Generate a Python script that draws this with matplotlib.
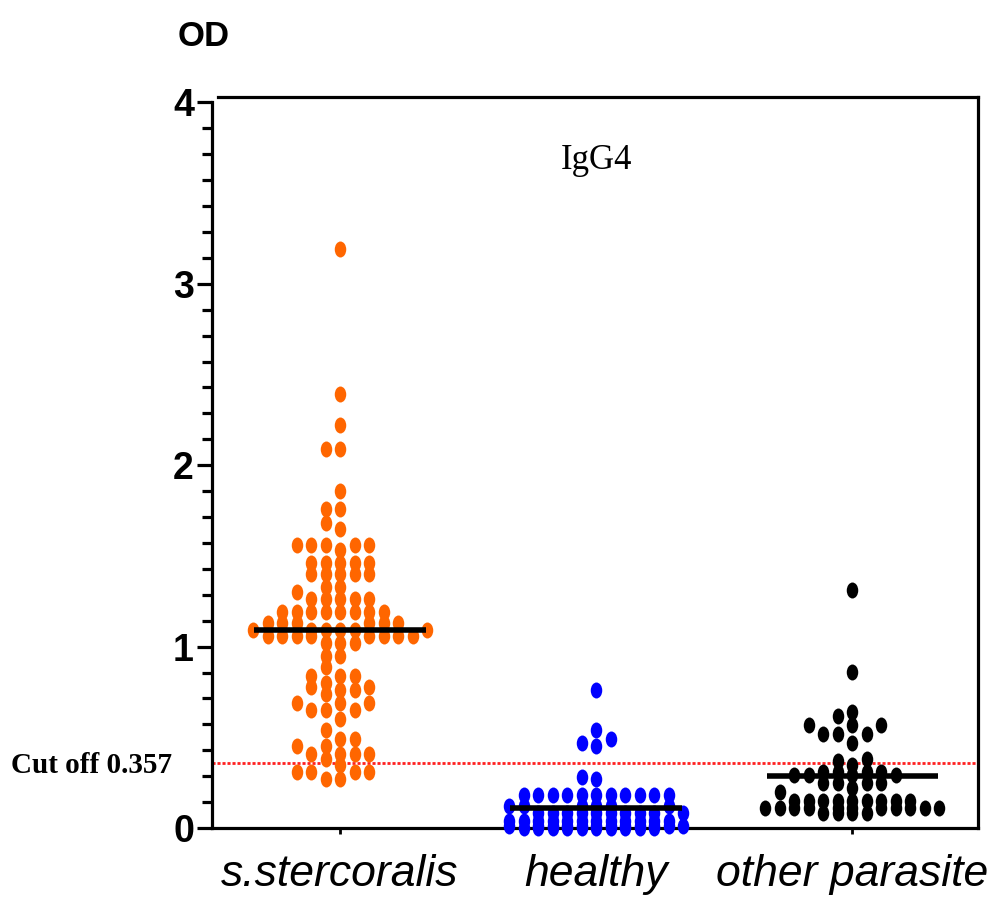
import numpy as np
import matplotlib
matplotlib.use("Agg")
import matplotlib.pyplot as plt
from matplotlib.path import Path
from matplotlib.ticker import MultipleLocator

# group names and OD values
groups = ["s.stercoralis", "healthy", "other parasite"]
colors = ["#ff6600", "#0000ff", "#000000"]

stercoralis = ([3.19, 2.39, 2.22, 2.09, 2.09, 1.86, 1.76, 1.76, 1.68, 1.65]
               + [1.56] * 5 + [1.53] + [1.46] * 5 + [1.40] * 5 + [1.33] * 2 + [1.30]
               + [1.26] * 5 + [1.19] * 8 + [1.13] * 6 + [1.09] * 6 + [1.06] * 8
               + [1.02] * 3 + [0.95] * 2 + [0.89] + [0.84] * 3 + [0.80] + [0.78] * 2
               + [0.76] * 2 + [0.74] + [0.69] * 3 + [0.65] * 3 + [0.60] + [0.54]
               + [0.49] * 2 + [0.45] * 2 + [0.41] * 4 + [0.38] + [0.35] + [0.31] * 4
               + [0.27] * 2)

healthy = ([0.76, 0.54, 0.49, 0.47, 0.45, 0.28, 0.27] + [0.18] * 11 + [0.12] * 6
           + [0.08] * 10 + [0.04] * 12 + [0.01] * 12 + [0.00] * 10)

other = ([1.31, 0.86, 0.64, 0.62] + [0.57] * 3 + [0.52] * 3 + [0.47, 0.38, 0.37, 0.35]
         + [0.31] * 4 + [0.29] * 4 + [0.25] * 4 + [0.22, 0.20] + [0.15] * 9
         + [0.11] * 11 + [0.08] * 4)

cutoff = 0.357
yticks = [0, 1, 2, 3, 4]


def swarm_offsets(vals, dx, h, kmax=6):
    # GraphPad style: points sit in columns, nearest free column to the centre
    cols = {}
    offs = np.zeros(len(vals))
    order = [0]
    for k in range(1, kmax + 1):
        order += [-k, k]
    for i in np.argsort(vals, kind="stable"):
        v = vals[i]
        best, best_d = None, -1
        for k in order:
            d = min([abs(v - y) for y in cols.get(k, [])], default=99)
            if d >= h:
                best = k
                break
            if d > best_d:
                best, best_d = k, d
        cols.setdefault(best, []).append(v)
        offs[i] = best * dx
    return offs


fig = plt.figure(figsize=(10.03, 8.97), dpi=100)
ax = fig.add_axes([212 / 1003, 1 - 828 / 897, 766 / 1003, 731 / 897])
ax.set_xlim(-0.5, 2.49)
ax.set_ylim(0, 4.03)

circ = Path.unit_circle()
ell = Path(circ.vertices * [0.72, 1.0], circ.codes)

dx = 14.5 / 256.2
h = 10.0 / 181.0
for i, (vals, c) in enumerate(zip([stercoralis, healthy, other], colors)):
    vals = np.array(vals)
    xs = i + swarm_offsets(vals, dx, h)
    ax.scatter(xs, vals, s=132, marker=ell, color=c, linewidths=0, zorder=3, clip_on=False)
    m = vals.mean()
    ax.plot([i - 0.335, i + 0.335], [m, m], color="black", lw=4, solid_capstyle="butt", zorder=4)

ax.axhline(cutoff, color="#ff2020", lw=2, dashes=(1.1, 0.7), zorder=2)

for s in ax.spines.values():
    s.set_linewidth(2.3)
ax.spines["left"].set_bounds(0, 4)
ax.spines["top"].set_bounds(-0.475, 2.49)

ax.set_yticks(yticks)
ax.yaxis.set_minor_locator(MultipleLocator(1 / 7))
ax.tick_params(axis="y", which="major", length=11, width=2.3, pad=2, labelsize=27)
ax.tick_params(axis="y", which="minor", length=7, width=2.3)
for t in ax.get_yticklabels():
    t.set_fontweight("bold")
    t.set_family("Liberation Sans")

ax.set_xticks([0, 1, 2])
ax.set_xticklabels(groups, fontsize=32, style="italic", family="Liberation Sans")
ax.tick_params(axis="x", length=4, width=2, pad=15)

fig.text(204 / 1003, 1 - 37 / 897, "OD", fontsize=25, fontweight="bold",
         family="Liberation Sans", ha="center", va="center")
ax.text(1.0, 3.68, "IgG4", fontsize=25, family="Liberation Serif",
        ha="center", va="center")
fig.text(92 / 1003, 1 - 765 / 897, "Cut off 0.357", fontsize=21, fontweight="bold",
         family="Liberation Serif", ha="center", va="center")

fig.savefig("out.png", dpi=100)
